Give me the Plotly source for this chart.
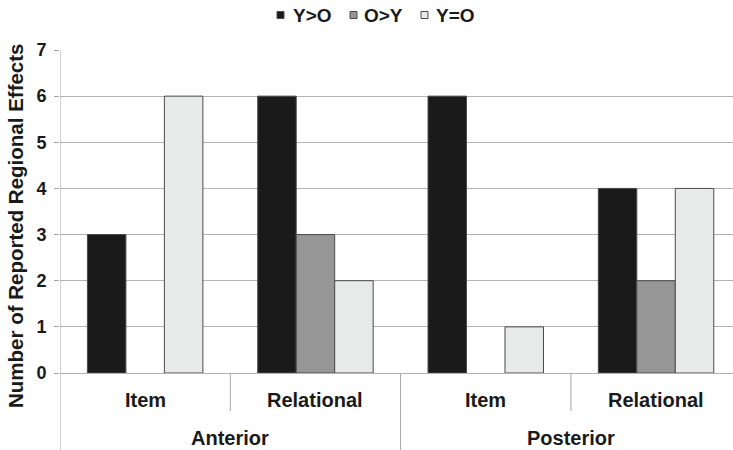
import plotly.graph_objects as go

# Data
regions = ["Anterior", "Anterior", "Posterior", "Posterior"]
memory_types = ["Item", "Relational", "Item", "Relational"]
series_names = ["Y>O", "O>Y", "Y=O"]
y_gt_o = [3, 6, 6, 4]
o_gt_y = [0, 3, 0, 2]
y_eq_o = [6, 2, 1, 4]
series_values = [y_gt_o, o_gt_y, y_eq_o]
series_colors = ["#1a1a1a", "#969696", "#e8eaea"]
y_ticks = [0, 1, 2, 3, 4, 5, 6, 7]

W, H = 733, 450
ML, MR, MT, MB = 60, 0, 50, 77
PW, PH = W - ML - MR, H - MT - MB
FONT = "Liberation Sans, Arial, sans-serif"
AXIS_GRAY = "#a6a6a6"
TEXT = "#1a1a1a"


def px_x(p):
    return (p - ML) / PW


def px_y(p):
    return (H - MB - p) / PH


xs = list(range(len(memory_types)))
group_px = 170.3
x_right = -0.5 + PW / group_px

fig = go.Figure()
for name, vals, col in zip(series_names, series_values, series_colors):
    fig.add_trace(go.Bar(
        x=xs, y=vals, name=name,
        marker=dict(color=col,
                    line=dict(color="#4a4a4a",
                              width=[1 if v else 0 for v in vals])),
        showlegend=False,
    ))

shapes = []
annotations = []

# category dividers below the plot
for i in range(len(xs) - 1):
    outer = regions[i] != regions[i + 1]
    shapes.append(dict(type="line", xref="x", yref="paper",
                       x0=i + 0.5, x1=i + 0.5, y0=0,
                       y1=px_y(450) if outer else px_y(411),
                       line=dict(color=AXIS_GRAY, width=1)))
# left axis line extended through the label area
shapes.append(dict(type="line", xref="x", yref="paper",
                   x0=-0.5, x1=-0.5, y0=px_y(450), y1=1,
                   line=dict(color=AXIS_GRAY, width=1)))

# inner category labels
for i, m in enumerate(memory_types):
    annotations.append(dict(x=i, y=px_y(400), xref="x", yref="paper",
                            text="<b>%s</b>" % m, showarrow=False,
                            font=dict(family=FONT, size=20, color=TEXT),
                            xanchor="center", yanchor="middle"))
# outer category labels
seen = []
for r in regions:
    if r not in seen:
        seen.append(r)
for r in seen:
    idx = [i for i, v in enumerate(regions) if v == r]
    cx = (idx[0] + idx[-1]) / 2
    annotations.append(dict(x=cx, y=px_y(438), xref="x", yref="paper",
                            text="<b>%s</b>" % r, showarrow=False,
                            font=dict(family=FONT, size=20, color=TEXT),
                            xanchor="center", yanchor="middle"))

# y-axis title
annotations.append(dict(x=px_x(15), y=px_y(226), xref="paper", yref="paper",
                        text="<b>Number of Reported Regional Effects</b>",
                        textangle=-90, showarrow=False,
                        font=dict(family=FONT, size=20.5, color=TEXT),
                        xanchor="center", yanchor="middle"))

# legend built from squares and labels
legend_pos = [(277, 291), (350, 362), (421, 434)]
for (sq, tx), name, col in zip(legend_pos, series_names, series_colors):
    shapes.append(dict(type="rect", xref="paper", yref="paper",
                       x0=px_x(sq), x1=px_x(sq + 7),
                       y0=px_y(18.5), y1=px_y(11.5),
                       fillcolor=col, line=dict(color="#4a4a4a", width=1)))
    annotations.append(dict(x=px_x(tx), y=px_y(15.5), xref="paper", yref="paper",
                            text="<b>%s</b>" % name, showarrow=False,
                            font=dict(family=FONT, size=19, color=TEXT),
                            xanchor="left", yanchor="middle"))

fig.update_layout(
    width=W, height=H,
    margin=dict(l=ML, r=MR, t=MT, b=MB, pad=0),
    paper_bgcolor="white", plot_bgcolor="white",
    barmode="group", bargap=0.322, bargroupgap=0,
    shapes=shapes, annotations=annotations,
    font=dict(family=FONT, color=TEXT),
)
fig.update_xaxes(range=[-0.5, x_right], showticklabels=False, showgrid=False,
                 zeroline=False, showline=False, ticks="")
fig.update_yaxes(range=[0, 7], tickvals=y_ticks,
                 ticktext=["<b>%d</b>" % v for v in y_ticks],
                 tickfont=dict(family=FONT, size=18, color=TEXT),
                 showgrid=True, gridcolor="#b4b4b4", gridwidth=1,
                 zeroline=True, zerolinecolor="#b4b4b4", zerolinewidth=1,
                 showline=False, ticks="outside", ticklen=5,
                 tickcolor=AXIS_GRAY, ticklabelstandoff=4)

fig.write_html("out.html")
